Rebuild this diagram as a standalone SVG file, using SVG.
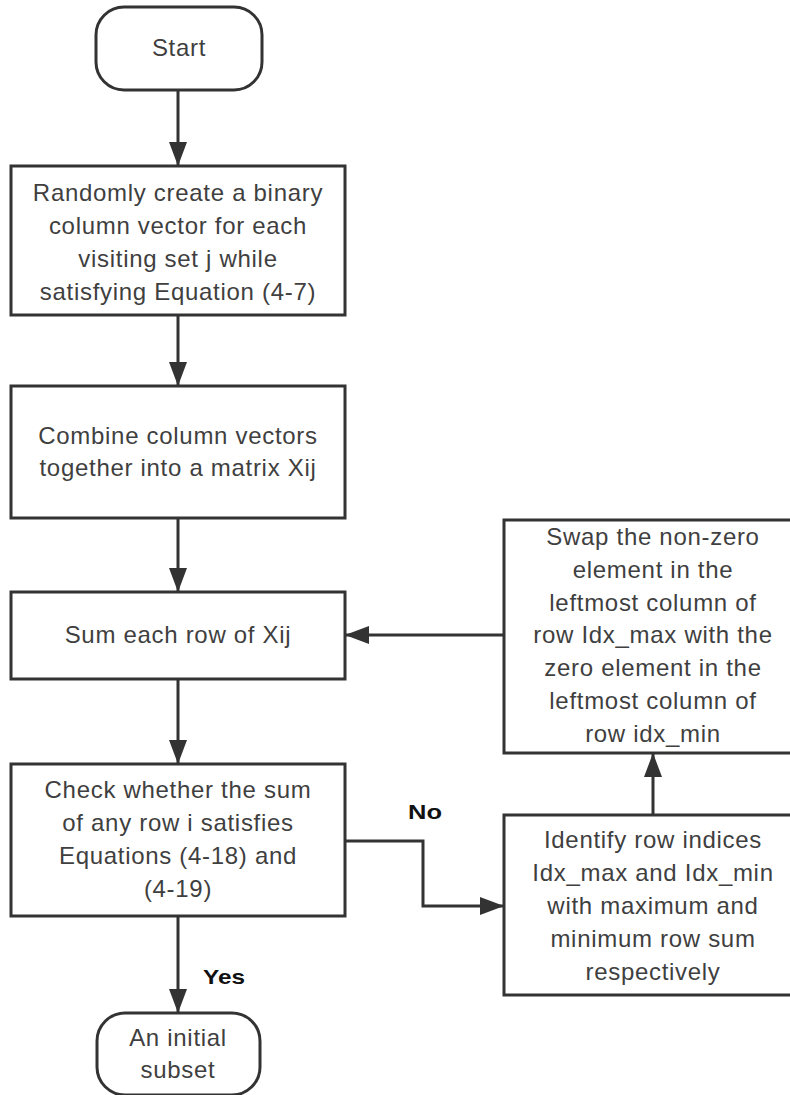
<svg xmlns="http://www.w3.org/2000/svg" width="790" height="1095" viewBox="0 0 790 1095">
<defs>
<style>
.shape{fill:#fff;stroke:#333;stroke-width:3}
.t{font-family:"Liberation Sans",Arial,sans-serif;font-size:24px;letter-spacing:0.7px;fill:#3f3f3f;text-anchor:middle}
.lbl{font-family:"Liberation Sans",Arial,sans-serif;font-size:21px;font-weight:bold;fill:#111}
.c{fill:none;stroke:#333;stroke-width:3}
</style>
<marker id="ah" markerUnits="userSpaceOnUse" markerWidth="26" markerHeight="18" refX="24" refY="9" orient="auto">
<path d="M0,0 L24,9 L0,18 z" fill="#333"/>
</marker>
</defs>
<rect width="790" height="1095" fill="#fff"/>
<g id="connectors">
<line class="c" x1="178" y1="90" x2="178" y2="166" marker-end="url(#ah)"/>
<line class="c" x1="178" y1="315" x2="178" y2="386" marker-end="url(#ah)"/>
<line class="c" x1="178" y1="518" x2="178" y2="592" marker-end="url(#ah)"/>
<line class="c" x1="178" y1="679" x2="178" y2="764" marker-end="url(#ah)"/>
<line class="c" x1="178" y1="916" x2="178" y2="1013" marker-end="url(#ah)"/>
<polyline class="c" points="345,841 423,841 423,906 504,906" marker-end="url(#ah)"/>
<line class="c" x1="653" y1="815" x2="653" y2="753" marker-end="url(#ah)"/>
<line class="c" x1="504" y1="635" x2="345" y2="635" marker-end="url(#ah)"/>
<text class="lbl" x="408" y="819" textLength="34" lengthAdjust="spacingAndGlyphs">No</text>
<text class="lbl" x="203" y="984" textLength="42" lengthAdjust="spacingAndGlyphs">Yes</text>
</g>
<g id="start">
<rect class="shape" x="96" y="7" width="166" height="83" rx="28" ry="28"/>
<text class="t" x="179" y="56">Start</text>
</g>
<g id="create">
<rect class="shape" x="11" y="166" width="334" height="149"/>
<text class="t" x="178" y="201">Randomly create a binary</text>
<text class="t" x="178" y="234">column vector for each</text>
<text class="t" x="178" y="267">visiting set j while</text>
<text class="t" x="178" y="300">satisfying Equation (4-7)</text>
</g>
<g id="combine">
<rect class="shape" x="11" y="386" width="334" height="132"/>
<text class="t" x="178" y="444">Combine column vectors</text>
<text class="t" x="178" y="476">together into a matrix Xij</text>
</g>
<g id="sum">
<rect class="shape" x="11" y="592" width="334" height="87"/>
<text class="t" x="178" y="643">Sum each row of Xij</text>
</g>
<g id="check">
<rect class="shape" x="11" y="764" width="334" height="152"/>
<text class="t" x="178" y="798">Check whether the sum</text>
<text class="t" x="178" y="831">of any row i satisfies</text>
<text class="t" x="178" y="864">Equations (4-18) and</text>
<text class="t" x="178" y="897">(4-19)</text>
</g>
<g id="identify">
<rect class="shape" x="504" y="815" width="298" height="180"/>
<text class="t" x="653" y="848">Identify row indices</text>
<text class="t" x="653" y="881">Idx_max and Idx_min</text>
<text class="t" x="653" y="914">with maximum and</text>
<text class="t" x="653" y="947">minimum row sum</text>
<text class="t" x="653" y="980">respectively</text>
</g>
<g id="swap">
<rect class="shape" x="504" y="520" width="298" height="233"/>
<text class="t" x="653" y="545">Swap the non-zero</text>
<text class="t" x="653" y="578">element in the</text>
<text class="t" x="653" y="611">leftmost column of</text>
<text class="t" x="653" y="643">row Idx_max with the</text>
<text class="t" x="653" y="676">zero element in the</text>
<text class="t" x="653" y="709">leftmost column of</text>
<text class="t" x="653" y="742">row idx_min</text>
</g>
<g id="end">
<rect class="shape" x="97" y="1013" width="163" height="82" rx="28" ry="28"/>
<text class="t" x="178" y="1046">An initial</text>
<text class="t" x="178" y="1078">subset</text>
</g>
</svg>
